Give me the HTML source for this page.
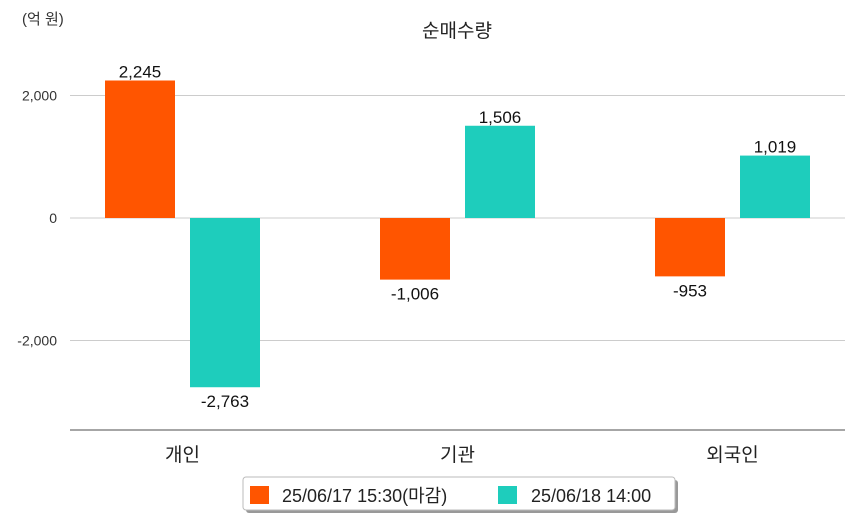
<!DOCTYPE html>
<html><head><meta charset="utf-8"><style>
body{margin:0;background:#fff;font-family:"Liberation Sans","Noto Sans CJK KR",sans-serif;}
svg text{font-family:"Liberation Sans","Noto Sans CJK KR",sans-serif;}
</style></head><body>
<svg id="c" width="854" height="520">
<text x="22" y="24" font-size="15" fill="#333">(억 원)</text>
<text x="457" y="37" font-size="19" text-anchor="middle" fill="#222">순매수량</text>
<g id="grid"></g><g id="bars"></g>
<line x1="70" y1="430" x2="845" y2="430" stroke="#888" stroke-width="1.5"/>
<g>
<rect x="246" y="480" width="432" height="33" fill="#999" rx="3"/>
<rect x="243" y="477" width="432" height="33" fill="#fff" stroke="#bbb" rx="3"/>
<rect x="250" y="486" width="19" height="18" fill="#ff5500"/>
<text x="282" y="502" font-size="18" fill="#222">25/06/17 15:30(마감)</text>
<rect x="498" y="486" width="19" height="18" fill="#1ecdbc"/>
<text x="531" y="502" font-size="18" fill="#222">25/06/18 14:00</text>
</g>
</svg>
<script>
const categories=["개인","기관","외국인"];
const series1=[2245,-1006,-953];
const series2=[-2763,1506,1019];
const ticks=[2000,0,-2000];
const NS="http://www.w3.org/2000/svg";
const y=v=>218-v*0.06125;
const cx=i=>182.5+i*275;
const svg=document.getElementById('c'),grid=document.getElementById('grid'),bars=document.getElementById('bars');
function mk(tag,attrs,parent,txt){const e=document.createElementNS(NS,tag);for(const k in attrs)e.setAttribute(k,attrs[k]);if(txt!==undefined)e.textContent=txt;parent.appendChild(e);return e;}
const fmt=v=>(v<0?"-":"")+Math.abs(v).toLocaleString('en-US');
ticks.forEach(t=>{
 const l=mk('line',{x1:70,x2:845,y1:y(t),y2:y(t),stroke:'#ccc'},grid);
 
 
 const tx=mk('text',{x:57,y:y(t)+5,'font-size':14,'text-anchor':'end',fill:'#333'},grid,fmt(t));
 
 
});
categories.forEach((c,i)=>{
 const t=mk('text',{x:cx(i),y:461,'font-size':19,'text-anchor':'middle',fill:'#222'},svg,c);
 
 
 [[series1[i],'#ff5500',-77.5],[series2[i],'#1ecdbc',7.5]].forEach(([v,col,off],s)=>{
  const top=Math.min(y(v),y(0)),h=Math.abs(y(v)-y(0));
  const r=mk('rect',{x:cx(i)+off,y:top,width:70,height:h,fill:col},bars);
  
  
  const ly=v>=0?y(v)-3:y(v)+20;
  const lt=mk('text',{x:cx(i)+off+35,y:ly,'font-size':17,'text-anchor':'middle',fill:'#111'},bars,fmt(v));
  
  
 });
});
</script>
</body></html>
